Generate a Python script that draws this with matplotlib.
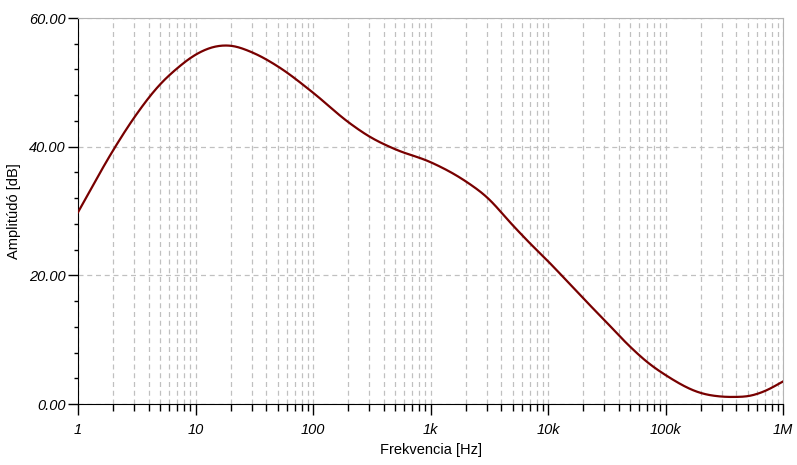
import numpy as np
import matplotlib
matplotlib.use('Agg')
import matplotlib.pyplot as plt
from matplotlib.ticker import FixedLocator, MultipleLocator, NullFormatter

# data
freq = [1, 2, 3, 5, 7, 10, 15, 20, 30, 50, 100, 200, 300, 500, 1e3, 2e3, 3e3, 5e3, 7e3,
        1e4, 2e4, 3e4, 5e4, 7e4, 1e5, 2e5, 3e5, 4e5, 5e5, 7e5, 1e6]
ampl = [29.8, 39.5, 44.5, 49.7, 52.2, 54.3, 55.6, 55.7, 54.7, 52.5, 48.4, 43.8, 41.6, 39.6, 37.6,
        34.6, 32.2, 27.8, 25.0, 22.2, 16.4, 13.1, 8.9, 6.5, 4.5, 1.7, 1.15, 1.1, 1.2, 2.0, 3.5]
xtick_pos = [1, 10, 100, 1e3, 1e4, 1e5, 1e6]
xtick_lab = ['1', '10', '100', '1k', '10k', '100k', '1M']
ytick_pos = [0, 20, 40, 60]
ytick_lab = ['0.00', '20.00', '40.00', '60.00']

plt.rcParams['font.family'] = ['Liberation Sans', 'DejaVu Sans']

fig = plt.figure(figsize=(7.97, 4.65), dpi=100)
ax = fig.add_axes([78/797, 1 - 404/465, 705/797, 386/465])

# smooth through the read points in log-frequency (cubic hermite)
def hermite(x, y, xn):
    x = np.asarray(x); y = np.asarray(y)
    h = np.diff(x); d = np.diff(y) / h
    m = np.zeros_like(y)
    m[0] = d[0]; m[-1] = d[-1]
    for k in range(1, len(y) - 1):
        m[k] = (d[k-1]*h[k] + d[k]*h[k-1]) / (h[k] + h[k-1])
    idx = np.clip(np.searchsorted(x, xn) - 1, 0, len(h) - 1)
    t = (xn - x[idx]) / h[idx]
    h00 = 2*t**3 - 3*t**2 + 1; h10 = t**3 - 2*t**2 + t
    h01 = -2*t**3 + 3*t**2; h11 = t**3 - t**2
    return h00*y[idx] + h10*h[idx]*m[idx] + h01*y[idx+1] + h11*h[idx]*m[idx+1]

xs = np.linspace(0, 6, 1201)
ys = hermite(np.log10(freq), ampl, xs)
# light moving average to iron out reading jitter (keep ends as is)
w = 21
ysm = ys.copy()
ysm[w//2:-(w//2)] = np.convolve(ys, np.ones(w)/w, mode='valid')

ax.plot(10**xs, ysm, color='#780000', lw=1.6, zorder=3)

ax.set_xscale('log')
ax.set_xlim(1, 1e6)
ax.set_ylim(0, 60)

ax.xaxis.set_major_locator(FixedLocator(xtick_pos))
ax.set_xticklabels(xtick_lab, fontstyle='italic', fontsize=10.5)
ax.xaxis.set_minor_locator(matplotlib.ticker.LogLocator(base=10, subs=range(2, 10)))
ax.xaxis.set_minor_formatter(NullFormatter())
ax.yaxis.set_major_locator(FixedLocator(ytick_pos))
ax.set_yticklabels(ytick_lab, fontstyle='italic', fontsize=10.5)
ax.yaxis.set_minor_locator(MultipleLocator(4))

ax.tick_params(axis='x', which='major', direction='out', length=8, width=1, pad=6)
ax.tick_params(axis='x', which='minor', direction='out', length=5, width=1)
ax.tick_params(axis='y', which='major', direction='out', length=7, width=1, pad=2)
ax.tick_params(axis='y', which='minor', direction='out', length=3, width=1)

ax.grid(True, which='both', axis='x', color='#c0c0c0', linestyle=(0, (4, 3)), lw=0.9)
ax.grid(True, which='major', axis='y', color='#c0c0c0', linestyle=(0, (4, 3)), lw=0.9)

for s in ['top', 'right']:
    ax.spines[s].set_color('#b4b4b4')
for s in ['left', 'bottom']:
    ax.spines[s].set_color('black')

ax.set_xlabel('Frekvencia [Hz]', fontsize=10.5, labelpad=4)
ax.set_ylabel('Amplitúdó [dB]', fontsize=10.5, labelpad=6)

fig.savefig('out.png', dpi=100)
